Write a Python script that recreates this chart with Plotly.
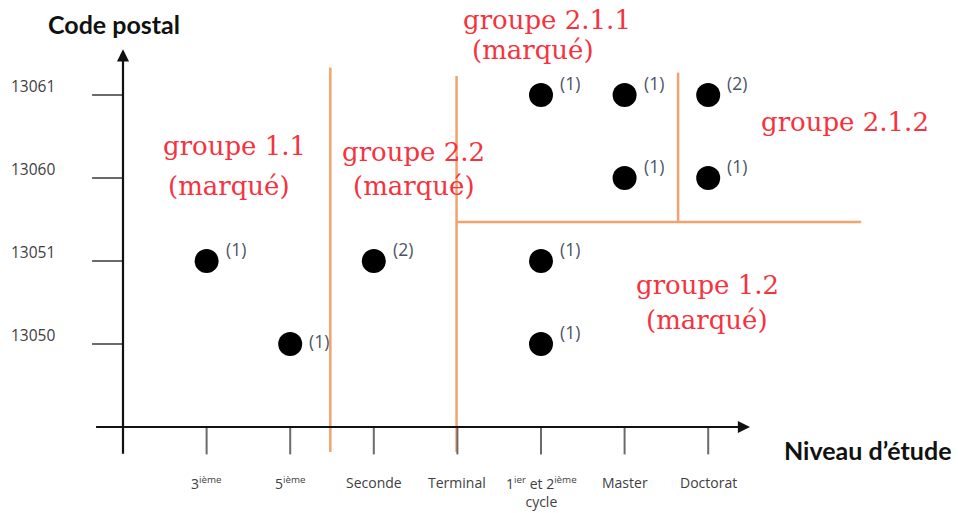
import plotly.graph_objects as go

# ---- data ----
levels = ["3<sup>ième</sup>", "5<sup>ième</sup>", "Seconde", "Terminal",
          "1<sup>ier</sup> et 2<sup>ième</sup><br>cycle", "Master", "Doctorat"]
postcodes = ["13050", "13051", "13060", "13061"]

# points: (level index 1..7, postcode index 1..4, count)
pt_level = [1, 2, 3, 5, 5, 5, 6, 6, 7, 7]
pt_code = [2, 1, 2, 4, 2, 1, 4, 3, 4, 3]
pt_count = [1, 1, 2, 1, 1, 1, 1, 1, 2, 1]

groups = ["groupe 1.1", "groupe 2.2", "groupe 2.1.1", "groupe 2.1.2", "groupe 1.2"]
marked = [True, True, True, False, True]

# ---- geometry (axis units) ----
XR = [-123 / 83.6, (958 - 123) / 83.6]
YR = [(427 - 513) / 83.0, 427 / 83.0]

fig = go.Figure()

annotations = []
shapes = []

ORANGE = "#F2A26C"
RED = "#F5333F"
GRAY = "#6a6a6a"

def seg(x0, y0, x1, y1, color, w):
    shapes.append(dict(type="line", xref="x", yref="y", x0=x0, y0=y0, x1=x1, y1=y1,
                       line=dict(color=color, width=w), layer="below"))

# separating lines
seg(2.48, 4.33, 2.48, -0.30, ORANGE, 2.5)
seg(3.99, 4.23, 3.99, -0.30, ORANGE, 2.5)
seg(3.99, 2.47, 8.83, 2.47, ORANGE, 2.5)
seg(6.64, 4.27, 6.64, 2.47, ORANGE, 2.5)

# tick marks
for i in range(1, len(levels) + 1):
    seg(i, 0, i, -0.33, GRAY, 2)
for j in range(1, len(postcodes) + 1):
    seg(0, j, -0.37, j, GRAY, 2)

# axes with arrows
annotations.append(dict(x=7.50, y=0, ax=-0.34, ay=0, xref="x", yref="y", axref="x", ayref="y",
                        text="", showarrow=True, arrowhead=2, arrowsize=1.1, arrowwidth=2.2,
                        arrowcolor="#111111", standoff=0, startstandoff=0))
annotations.append(dict(x=0, y=4.55, ax=0, ay=-0.34, xref="x", yref="y", axref="x", ayref="y",
                        text="", showarrow=True, arrowhead=2, arrowsize=1.1, arrowwidth=2.2,
                        arrowcolor="#111111", standoff=0, startstandoff=0))

# tick labels
for i, lab in enumerate(levels, start=1):
    annotations.append(dict(x=i, y=-0.53, xref="x", yref="y", text=lab, showarrow=False,
                            xanchor="center", yanchor="top",
                            font=dict(family="Open Sans", size=14, color="#404040")))
for j, lab in enumerate(postcodes, start=1):
    annotations.append(dict(x=-1.36, y=j, xref="x", yref="y", text=lab, showarrow=False,
                            xanchor="left", yanchor="middle", yshift=9,
                            font=dict(family="Open Sans", size=15.5, color="#404040")))

# axis titles
annotations.append(dict(x=-0.11, y=4.86, xref="x", yref="y", text="<b>Code postal</b>",
                        showarrow=False, font=dict(family="Lato", size=25, color="#111111")))
annotations.append(dict(x=8.91, y=-0.28, xref="x", yref="y", text="<b>Niveau d’étude</b>",
                        showarrow=False, font=dict(family="Lato", size=25, color="#111111")))

# points
fig.add_trace(go.Scatter(x=pt_level, y=pt_code, mode="markers",
                         marker=dict(size=24, color="#000000"), hoverinfo="skip"))

# count labels
for lx, ly, c in zip(pt_level, pt_code, pt_count):
    ys = 3 if (lx, ly) == (2, 1) else 12
    annotations.append(dict(x=lx, y=ly, xref="x", yref="y", text=f"({c})", showarrow=False,
                            xanchor="left", yanchor="middle", xshift=17, yshift=ys,
                            font=dict(family="Open Sans", size=17.5, color="#4a5366")))

# group labels
group_pos = [(1.33, 3.39, 1.27, 2.90), (3.48, 3.31, 3.48, 2.90), (5.07, 4.90, 4.90, 4.54),
             (8.64, 3.67, None, None), (6.99, 1.71, 6.99, 1.29)]
for name, mk, (gx, gy, mx, my) in zip(groups, marked, group_pos):
    annotations.append(dict(x=gx, y=gy, xref="x", yref="y", text=name, showarrow=False,
                            font=dict(family="DejaVu Serif", size=26, color=RED)))
    if mk:
        annotations.append(dict(x=mx, y=my, xref="x", yref="y", text="(marqué)", showarrow=False,
                                font=dict(family="DejaVu Serif", size=26, color=RED)))

fig.update_layout(
    width=958, height=513,
    margin=dict(l=0, r=0, t=0, b=0),
    paper_bgcolor="white", plot_bgcolor="white",
    showlegend=False,
    xaxis=dict(range=XR, visible=False, fixedrange=True),
    yaxis=dict(range=YR, visible=False, fixedrange=True),
    shapes=shapes, annotations=annotations,
)

fig.write_html("out.html", config={"displayModeBar": False},
               post_script="document.body.style.margin='0px';document.body.style.overflow='hidden';")
